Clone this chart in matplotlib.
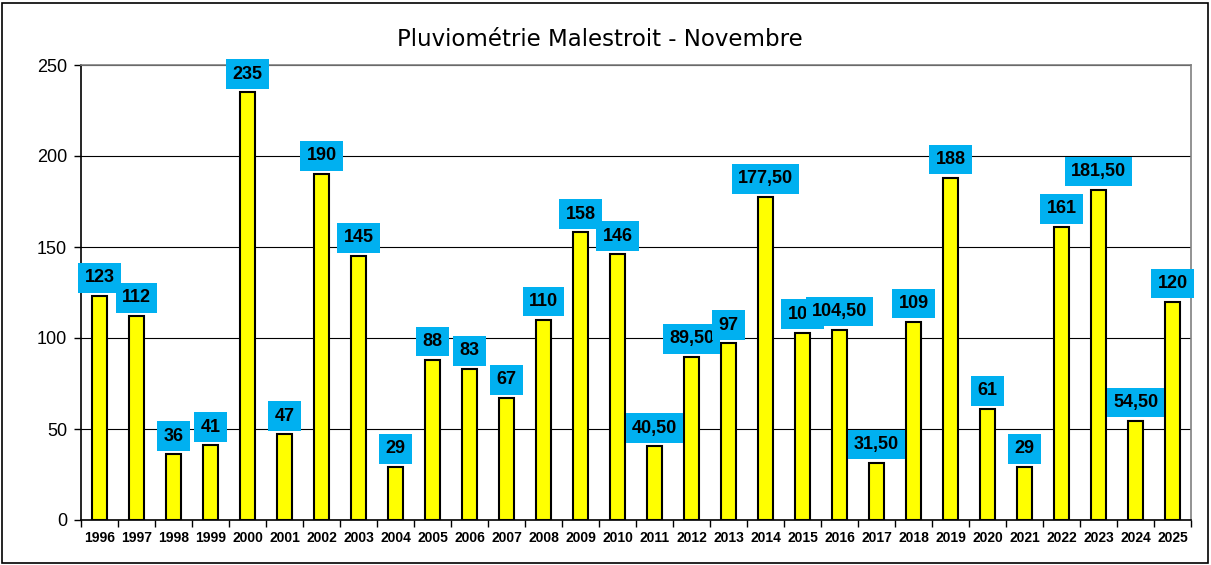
import matplotlib
matplotlib.use("Agg")
import matplotlib.pyplot as plt
from matplotlib.patches import Rectangle
import numpy as np

years = [str(y) for y in range(1996, 2026)]
values = [123, 112, 36, 41, 235, 47, 190, 145, 29, 88, 83, 67, 110, 158, 146,
          40.5, 89.5, 97, 177.5, 103, 104.5, 31.5, 109, 188, 61, 29, 161, 181.5, 54.5, 120]
title = "Pluviométrie Malestroit - Novembre"
yticks = [0, 50, 100, 150, 200, 250]


def fmt(v):
    if float(v).is_integer():
        return str(int(v))
    return f"{v:.2f}".replace(".", ",")


fig = plt.figure(figsize=(12.11, 5.65), dpi=100)
ax = fig.add_axes([81 / 1211, 1 - 520 / 565, (1191 - 81) / 1211, (520 - 65) / 565])

x = np.arange(len(years))
ax.bar(x, values, width=0.43, color="#FFFF00", edgecolor="black", linewidth=1.5, zorder=3)

ax.set_xlim(-0.5, len(years) - 0.5)
ax.set_ylim(0, 250)
ax.set_yticks(yticks)
ax.set_yticklabels([str(t) for t in yticks], fontsize=13, family="Liberation Sans")
ax.yaxis.grid(True, color="black", linewidth=0.8, zorder=0)
ax.set_axisbelow(True)

ax.set_xticks(x)
ax.set_xticklabels(years, fontsize=10, fontweight="bold", family="Liberation Sans")
ax.tick_params(axis="x", length=0, pad=8)
ax.set_xticks(np.arange(-0.5, len(years), 1), minor=True)
ax.tick_params(axis="x", which="minor", length=5, width=1, direction="out")
ax.tick_params(axis="y", length=5, width=1, direction="out", pad=5)

for side in ["top", "right"]:
    ax.spines[side].set_color("#808080")
    ax.spines[side].set_linewidth(1.2)
for side in ["left", "bottom"]:
    ax.spines[side].set_color("black")
    ax.spines[side].set_linewidth(1.2)

for xi, v in zip(x, values):
    ax.annotate(fmt(v), xy=(xi, v), xytext=(0, 7), textcoords="offset points",
                ha="center", va="bottom", fontsize=13, fontweight="bold",
                family="Liberation Sans", color="black", zorder=5,
                bbox=dict(boxstyle="square,pad=0.35", facecolor="#00B0F0", edgecolor="none"))

fig.text(600 / 1211, 1 - 40 / 565, title, ha="center", va="center", fontsize=16.5,
         family="DejaVu Sans")

fig.patches.append(Rectangle((2 / 1211, 2 / 565), 1 - 5 / 1211, 1 - 5 / 565,
                             transform=fig.transFigure, fill=False,
                             edgecolor="black", linewidth=1.2))

fig.savefig("out.png", dpi=100)
